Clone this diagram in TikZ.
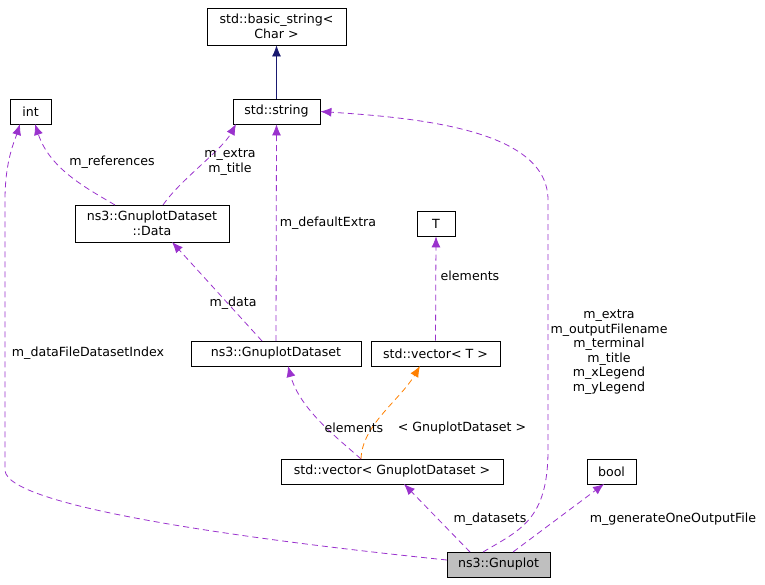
\documentclass[tikz,border=0pt]{standalone}
\usepackage{fontspec}
\setmainfont{DejaVu Sans}
\usetikzlibrary{arrows.meta}
\begin{document}
\begin{tikzpicture}[x=1pt,y=-1pt,
  box/.style={draw=black,fill=white,inner sep=1pt,font=\fontsize{12.6}{14.5}\selectfont,align=center,line width=0.8pt},
  lbl/.style={font=\fontsize{12.6}{14.5}\selectfont,align=center,inner sep=1pt},
  ed/.style={dash pattern=on 6pt off 4pt,line width=0.8pt,-{Latex[length=11pt,width=9pt]},color={rgb,255:red,154;green,50;blue,205}},
  oe/.style={ed,color=orange},
  se/.style={draw={rgb,255:red,25;green,25;blue,112},line width=0.8pt,-{Latex[length=11pt,width=9pt]}}]
\useasboundingbox (0,0) rectangle (765,584);
\node[box,minimum width=139,minimum height=37] (bs) at (276.5,26.5) {std::basic\_string\textless\\Char \textgreater};
\node[box,minimum width=87,minimum height=25] (str) at (276.5,111.5) {std::string};
\node[box,minimum width=41,minimum height=25] (int) at (30.5,111.5) {int};
\node[box,minimum width=154,minimum height=37] (data) at (152,223.5) {ns3::GnuplotDataset\\::Data};
\node[box,minimum width=38,minimum height=25] (T) at (436,223.5) {T};
\node[box,minimum width=170,minimum height=25] (gd) at (276,353.5) {ns3::GnuplotDataset};
\node[box,minimum width=129,minimum height=25] (vt) at (435.5,353.5) {std::vector\textless{} T \textgreater};
\node[box,minimum width=222,minimum height=25] (vg) at (392,471.5) {std::vector\textless{} GnuplotDataset \textgreater};
\node[box,minimum width=49,minimum height=25] (bool) at (611.5,471.5) {bool};
\node[box,fill={rgb,255:red,191;green,191;blue,191},minimum width=103,minimum height=25] (gp) at (498.5,564.5) {ns3::Gnuplot};

\coordinate (dTop) at (163,205);
\coordinate (sBL) at (236,124);
\coordinate (dTopL) at (115,205);
\coordinate (gdTop) at (262,341);
\coordinate (gdTopS) at (276,341);
\coordinate (vgTop) at (361,459);
\coordinate (gpA) at (483,552);
\coordinate (gpB) at (513,552);
\coordinate (gpC) at (470,552);
\coordinate (gpL) at (447,560);
\coordinate (intB) at (20,124);
\coordinate (dBot) at (172,242);
\coordinate (gdBot) at (288,366);
\coordinate (vtBot) at (420,366);
\coordinate (vgBot) at (404,484);
\coordinate (boolBot) at (604,484);

\draw[se] (str) -- (bs);
\draw[ed] (dTop) .. controls (180,180) and (222,150) .. (sBL);
\draw[ed] (dTopL) .. controls (90,190) and (50,170) .. (35,124);
\draw[ed] (gdTopS) -- (str.south);
\draw[ed] (gdTop) -- (dBot);
\draw[ed] (vt.north) -- (T.south);
\draw[ed] (vgTop) .. controls (340,440) and (300,410) .. (gdBot);
\draw[oe] (vgTop) .. controls (362,425) and (400,400) .. (vtBot);
\draw[ed] (gpC) -- (vgBot);
\draw[ed] (gpB) -- (boolBot);
\draw[ed] (gpL) .. controls (300,545) and (5,510) .. (5,470) -- (5,200) .. controls (5,160) and (15,140) .. (intB);
\draw[ed] (gpA) .. controls (520,530) and (548,520) .. (548,450) -- (548,200) .. controls (548,130) and (420,118) .. (str.east);

\node[lbl] (l1) at (88,353) {m\_dataFileDatasetIndex};
\node[lbl] (l2) at (609,352) {m\_extra\\m\_outputFilename\\m\_terminal\\m\_title\\m\_xLegend\\m\_yLegend};
\node[lbl] (l3) at (490,519) {m\_datasets};
\node[lbl] (l4) at (673,519) {m\_generateOneOutputFile};
\node[lbl] (l5) at (354,428) {elements};
\node[lbl] (l6) at (462,428) {\textless{} GnuplotDataset \textgreater};
\node[lbl] (l7) at (470,276) {elements};
\node[lbl] (l8) at (233,303) {m\_data};
\node[lbl] (l9) at (328,223) {m\_defaultExtra};
\node[lbl] (l10) at (230,162) {m\_extra\\m\_title};
\node[lbl] (l11) at (112,162) {m\_references};
\end{tikzpicture}
\end{document}
